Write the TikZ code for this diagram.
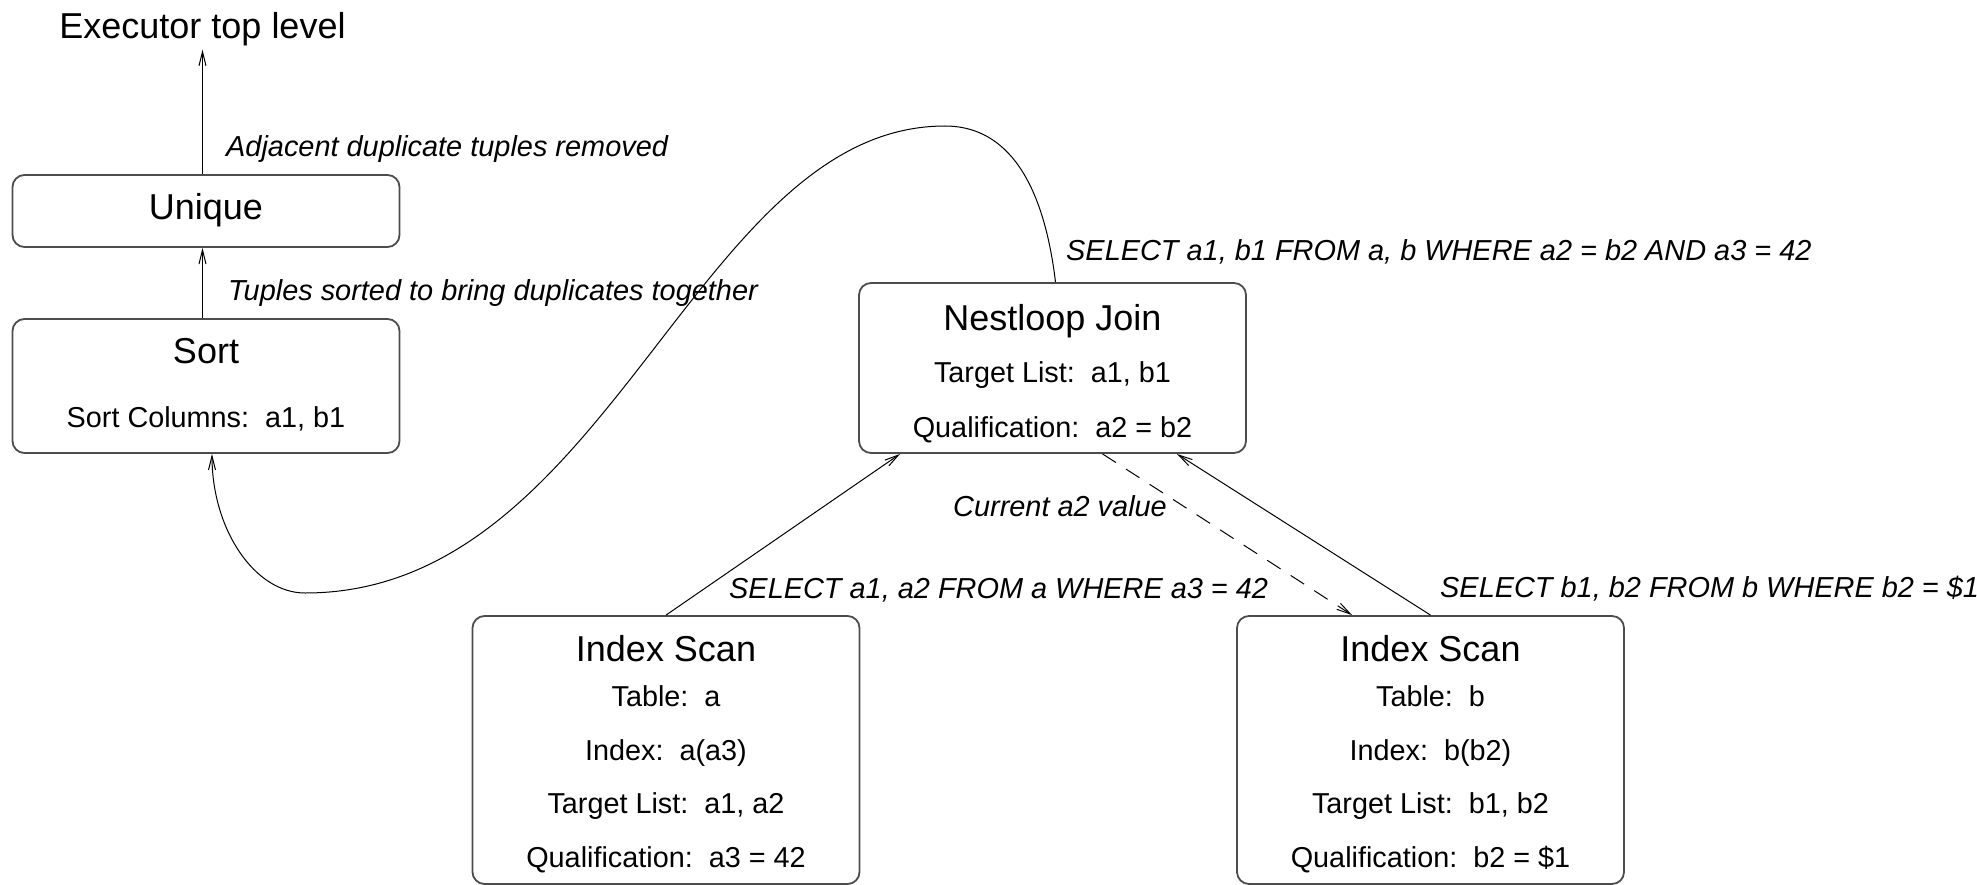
\documentclass[tikz,border=0pt]{standalone}
\usepackage{fontspec}
\setmainfont{Liberation Sans}
\usetikzlibrary{arrows.meta}
\newcommand\ttlf{\fontsize{36pt}{40pt}\selectfont}
\newcommand\bdyf{\fontsize{28.8pt}{32pt}\selectfont}
\newcommand\lblf{\fontsize{28.9pt}{32pt}\selectfont\itshape}
\begin{document}
\begin{tikzpicture}[x=1pt,y=-1pt,
  plan/.style={draw=black!70, line width=1.8pt, rounded corners=12pt, minimum width=387pt, inner sep=0pt},
  ttl/.style={inner sep=0pt, anchor=base, font=\ttlf},
  bdy/.style={inner sep=0pt, anchor=base, font=\bdyf},
  lbl/.style={inner sep=0pt, anchor=base west, font=\lblf},
  arr/.style={line width=1pt, -{Straight Barb[length=14pt,width=7pt,line width=1pt]}},
  dsh/.style={arr, dash pattern=on 16pt off 12pt}]
\useasboundingbox (0,0) rectangle (1977,885);
% boxes
\node[plan, minimum height=72pt]  (unique) at (206,211) {};
\node[plan, minimum height=134pt] (sort)   at (206,386) {};
\node[plan, minimum height=170pt] (nest)   at (1052.5,368) {};
\node[plan, minimum height=268pt] (ia)     at (666,750) {};
\node[plan, minimum height=268pt] (ib)     at (1430.5,750) {};
% texts
\node[ttl] (exec) at (202.5,39) {Executor top level};
\node[ttl] (tu) at (206,220) {Unique};
\node[ttl] (ts) at (206,363) {Sort};
\node[bdy] (ts1) at (206,427) {Sort Columns:~~a1, b1};
\node[ttl] (tn) at (1052.5,330) {Nestloop Join};
\node[bdy] (tn1) at (1052.5,382) {Target List:~~a1, b1};
\node[bdy] (tn2) at (1052.5,437) {Qualification:~~a2 = b2};
\node[ttl] (ta) at (666,661) {Index Scan};
\node[bdy] (ta1) at (666,706) {Table:~~a};
\node[bdy] (ta2) at (666,760) {Index:~~a(a3)};
\node[bdy] (ta3) at (666,813) {Target List:~~a1, a2};
\node[bdy] (ta4) at (666,867) {Qualification:~~a3 = 42};
\node[ttl] (tb) at (1430.5,661) {Index Scan};
\node[bdy] (tb1) at (1430.5,706) {Table:~~b};
\node[bdy] (tb2) at (1430.5,760) {Index:~~b(b2)};
\node[bdy] (tb3) at (1430.5,813) {Target List:~~b1, b2};
\node[bdy] (tb4) at (1430.5,867) {Qualification:~~b2 = \$1};
% labels
\node[lbl] (l1) at (226,157) {Adjacent duplicate tuples removed};
\node[lbl] (l2) at (228,300) {Tuples sorted to bring duplicates together};
\node[lbl] (l3) at (1066,261) {SELECT a1, b1 FROM a, b WHERE a2 = b2 AND a3 = 42};
\node[lbl] (l4) at (729,598) {SELECT a1, a2 FROM a WHERE a3 = 42};
\node[lbl] (l5) at (953,516) {Current a2 value};
\node[lbl] (l6) at (1440,597) {SELECT b1, b2 FROM b WHERE b2 = \$1};
% connectors
\draw[arr] (exec.south |- unique.north) -- ([yshift=-3pt]exec.south);
\draw[arr] (exec.south |- sort.north) -- (exec.south |- unique.south);
\draw[arr] ([xshift=3pt]nest.north) .. controls (1042,170) and (1000,126) .. (945,126)
  .. controls (695,126) and (610,593) .. (305,593)
  .. controls (255,593) and (212,530) .. ([xshift=6pt]sort.south);
\draw[arr] (ia.north) -- ([xshift=42pt]nest.south west);
\draw[arr] (ib.north) -- ([xshift=-70pt]nest.south east);
\draw[dsh] ([xshift=50pt]nest.south) -- ([xshift=116pt]ib.north west);
\end{tikzpicture}
\end{document}
